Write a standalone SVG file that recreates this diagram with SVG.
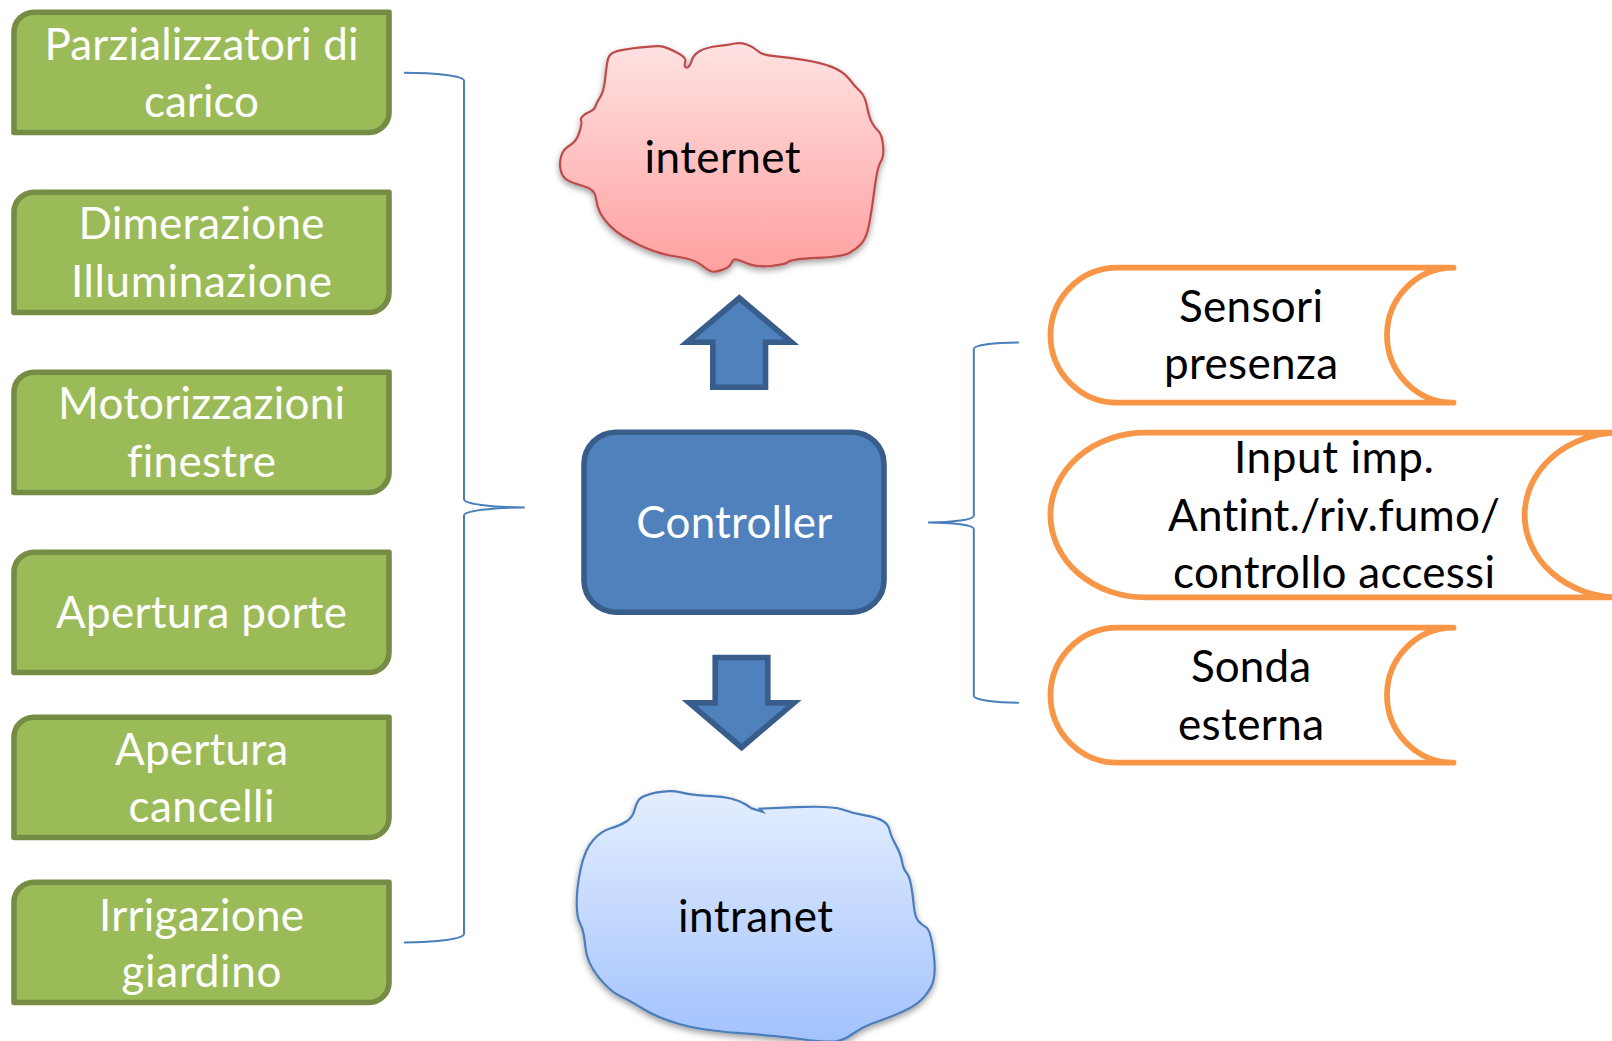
<svg xmlns="http://www.w3.org/2000/svg" width="1612" height="1041" viewBox="0 0 1612 1041">
<style>
text{font-family:Lato,"Open Sans",sans-serif;font-size:44px;text-anchor:middle;font-variant-ligatures:none}
.w{fill:#fff}
.k{fill:#000}
.green{fill:#9bbb59;stroke:#768c44;stroke-width:5.6;stroke-linejoin:round}
.blue{fill:#4f81bd;stroke:#385d8a;stroke-width:5.6;stroke-linejoin:miter}
.scroll{fill:#fff;stroke:#f79646;stroke-width:5.8;stroke-linecap:round;stroke-linejoin:round}
.brace{fill:none;stroke:#4a7ebb;stroke-width:2}
</style>
<defs>
<path id="gbox" class="green" d="M34,0H389V100.3A20,20 0 0 1 369,120.3H14V20A20,20 0 0 1 34,0Z"/>
<path id="scr" class="scroll" d="M403,0H67A67,67.5 0 0 0 67,135H403A66.5,67.5 0 0 1 403,0"/>
<linearGradient id="red" x1="0" y1="0" x2="0" y2="1"><stop offset="0" stop-color="#ffe2e2"/><stop offset="1" stop-color="#ffa0a0"/></linearGradient>
<linearGradient id="sky" x1="0" y1="0" x2="0" y2="1"><stop offset="0" stop-color="#e4eeff"/><stop offset="1" stop-color="#a2c2fd"/></linearGradient>
<filter id="sh" x="-10%" y="-10%" width="120%" height="125%"><feDropShadow dx="0" dy="3" stdDeviation="3" flood-color="#000" flood-opacity=".38"/></filter>
</defs>
<rect width="1612" height="1041" fill="#fff"/>
<g transform="translate(0 0.7)">
<g id="connectors">
<path id="brace-left" class="brace" d="M404,72C437,72 464,75.5 464,80V498.5C464,503 491,506.7 524.7,506.7C491,506.7 464,510.5 464,515V933C464,938 437,941.7 404,941.7"/>
<path id="brace-right" class="brace" d="M1018.9,341.7C994,341.7 973.8,344.5 973.8,348.3V515C973.8,519 953,521.7 928,521.7C953,521.7 973.8,524.5 973.8,528.3V695C973.8,699 994,702 1018.9,702"/>
<path id="arrow-up" class="blue" d="M739.3,297.3L791.5,341.5H765.5V386.5H712.8V341.5H687Z"/>
<path id="arrow-down" class="blue" d="M715.2,656.8H767.8V702.2H794L741.6,746.8L689.3,702.2H715.2Z"/>
</g>
<g id="n1"><use href="#gbox" y="11.5"/><text class="w" x="201.5" y="59.3" textLength="314">Parzializzatori di</text><text class="w" x="201.5" y="116.7" textLength="115">carico</text></g>
<g id="n2"><use href="#gbox" y="191.5"/><text class="w" x="201.5" y="238.3" textLength="246">Dimerazione</text><text class="w" x="201.5" y="296.7" textLength="261">Illuminazione</text></g>
<g id="n3"><use href="#gbox" y="371.5"/><text class="w" x="201.5" y="418.3" textLength="287">Motorizzazioni</text><text class="w" x="201.5" y="476.7" textLength="149">finestre</text></g>
<g id="n4"><use href="#gbox" y="551.5"/><text class="w" x="201.5" y="627.3" textLength="291">Apertura porte</text></g>
<g id="n5"><use href="#gbox" y="716.5"/><text class="w" x="201.5" y="764" textLength="173">Apertura</text><text class="w" x="201.5" y="821.7" textLength="146">cancelli</text></g>
<g id="n6"><use href="#gbox" y="881.5"/><text class="w" x="201.5" y="930" textLength="205">Irrigazione</text><text class="w" x="201.5" y="986.7" textLength="160">giardino</text></g>
<g id="internet"><path fill="url(#red)" stroke="#be4b48" stroke-width="2.2" filter="url(#sh)" d="M608,58.3Q609.3,53.3 614.7,51.3Q620,49.3 638.3,47Q656.7,44.7 661.7,45.7Q666.7,46.7 676.7,51.7Q686.7,56.7 685.3,60.8Q684,65 685.3,66.3Q686.7,67.7 688.3,66.3Q690,65 692,59.1Q694,53.3 700.3,50Q706.7,46.7 718.3,45.3Q730,44 735,42.8Q740,41.7 746.7,43.8Q753.3,46 757.5,50.1Q761.7,54.3 774.2,55.5Q786.7,56.7 803.3,59.2Q820,61.7 831.7,66.2Q843.3,70.7 849.2,78.3Q855,86 860,90.5Q865,95 867,105.8Q869,116.7 872,122Q875,127.3 878.3,130.3Q881.7,133.3 883,144.2Q884.3,155 880.8,160.8Q877.3,166.7 874.5,188.3Q871.7,210 869.2,223.3Q866.7,236.7 861.7,242.5Q856.7,248.3 849.2,252.2Q841.7,256 816.7,257.2Q791.7,258.3 788.3,261.2Q785,264 770.8,265.3Q756.7,266.7 746.7,262.5Q736.7,258.3 734.7,258.8Q732.7,259.3 731,263Q729.3,266.7 722.2,269.2Q715,271.7 711.7,270.8Q708.3,270 701.2,264.2Q694,258.3 676.2,255.8Q658.3,253.3 639.2,244.2Q620,235 611.7,226.7Q603.3,218.3 600,211.7Q596.7,205 595.8,196.7Q595,188.3 582.5,185Q570,181.7 565.8,178.3Q561.7,175 560.5,168.3Q559.3,161.7 561.3,155Q563.3,148.3 570,144.5Q576.7,140.7 579.5,131.2Q582.3,121.7 581.2,120.2Q580,118.7 582.5,115.7Q585,112.7 589.7,111Q594.3,109.3 595.5,105.5Q596.7,101.7 600.3,96.2Q604,90.7 605.3,77Q606.7,63.3 608,58.3Z"/><text class="k" x="722.6" y="172.7" textLength="156">internet</text></g>
<g id="intranet"><path fill="url(#sky)" stroke="#4a7ebb" stroke-width="2.2" filter="url(#sh)" d="M634.3,810Q636,803.3 638.8,799.2Q641.7,795 655.8,792Q670,789 680.8,791.7Q691.7,794.3 707.5,795.2Q723.3,796 731.7,798Q740,800 745.8,803.8L751.7,807.7L762.7,811L760,808L795.8,806.5Q831.7,805 842.5,808.8Q853.3,812.7 865,814.7Q876.7,816.7 882.5,820Q888.3,823.3 889.5,829.2Q890.7,835 895.7,844.2Q900.7,853.3 902,860.8Q903.3,868.3 906.3,871.7Q909.3,875 911,884.2Q912.7,893.3 913.8,905Q915,916.7 918.3,920.3Q921.7,924 926.2,926.7Q930.7,929.3 933.7,953Q936.7,976.7 930.8,986.7Q925,996.7 917.5,1002.5Q910,1008.3 895,1014.2Q880,1020 870.8,1023.3Q861.7,1026.7 852.5,1033.3Q843.3,1040 835,1040.8Q826.7,1041.7 800,1038.3Q773.3,1035 736.7,1032.2Q700,1029.3 678.3,1023Q656.7,1016.7 643.3,1008.3Q630,1000 620,995.3Q610,990.7 598.3,976.2Q586.7,961.7 585.3,945.8Q584,930 580.3,923.3Q576.7,916.7 576.7,901.7Q576.7,886.7 580.8,867.5Q585,848.3 593.3,839.2Q601.7,830 610.8,827.5Q620,825 626.3,820.8Q632.7,816.7 634.3,810Z"/><text class="k" x="755.5" y="931" textLength="155">intranet</text></g>
<g id="controller"><rect class="blue" x="584" y="431.5" width="300" height="180" rx="32" ry="32"/><text class="w" x="734.3" y="537" textLength="196">Controller</text></g>
<g id="s1"><use href="#scr" x="1050.5" y="267"/><text class="k" x="1251" y="321.7" textLength="144">Sensori</text><text class="k" x="1251" y="378.3" textLength="174">presenza</text></g>
<g id="s2"><path class="scroll" d="M1619.5,432H1145.3A94.8,82.3 0 0 0 1145.3,596.7H1619.5A94.8,82.3 0 0 1 1619.5,432"/><text class="k" x="1334" y="472.7" textLength="200">Input imp.</text><text class="k" x="1334" y="530.7" textLength="332">Antint./riv.fumo/</text><text class="k" x="1334" y="587.3" textLength="322">controllo accessi</text></g>
<g id="s3"><use href="#scr" x="1050.5" y="627"/><text class="k" x="1251" y="681.7" textLength="120">Sonda</text><text class="k" x="1251" y="739.3" textLength="146">esterna</text></g>
</g>
</svg>
